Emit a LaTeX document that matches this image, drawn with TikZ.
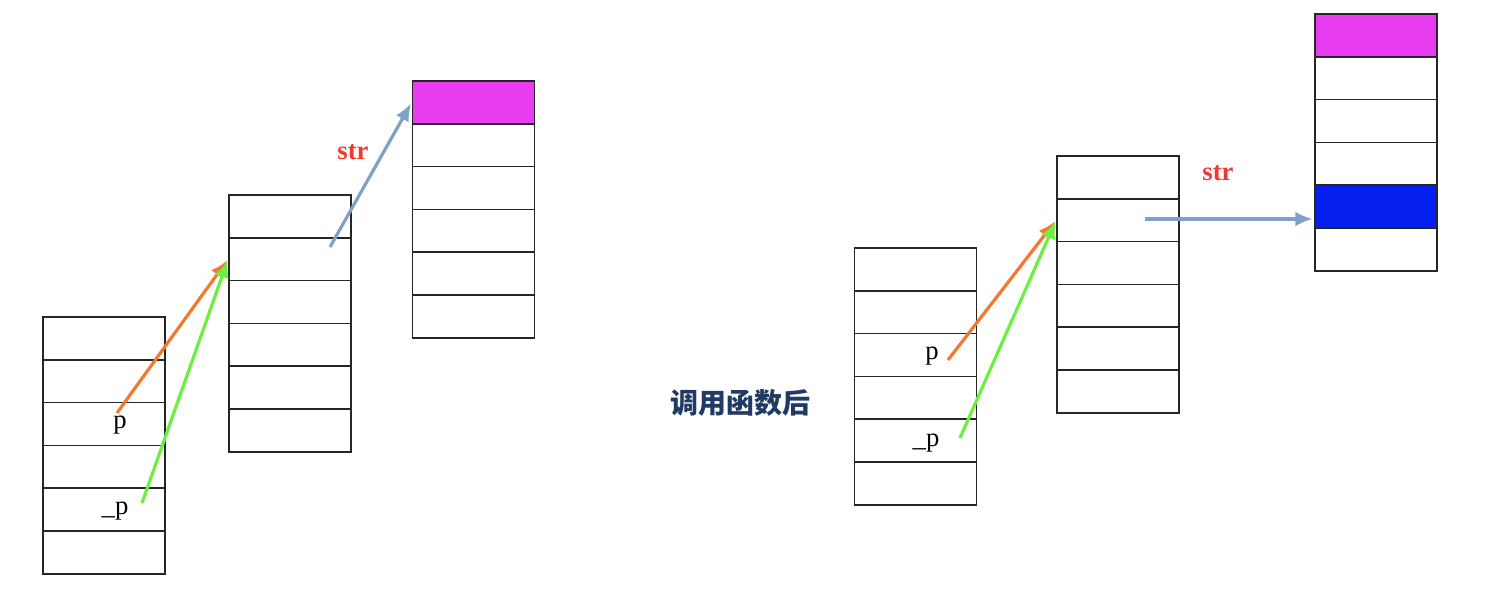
\documentclass[tikz,border=0pt]{standalone}
\usepackage{fontspec}
\setmainfont{Liberation Serif}
\newfontfamily\cjk{Noto Sans CJK SC}
\usetikzlibrary{arrows.meta}

\definecolor{cellpink}{HTML}{E83CF0}
\definecolor{cellblue}{HTML}{0620F0}
\definecolor{porange}{HTML}{F07A30}
\definecolor{pgreen}{HTML}{6CF040}
\definecolor{pgrey}{HTML}{80A0C8}
\definecolor{strred}{HTML}{F03A30}
\definecolor{titleblue}{HTML}{1F3A64}

\tikzset{
    cell/.style={draw=black!85, line width=1.3pt, minimum width=91.5pt, minimum height=32.1pt, inner sep=0pt},
    lbl/.style={font=\fontsize{20}{24}\selectfont},
    strlbl/.style={font=\bfseries\fontsize{20}{24}\selectfont, text=strred},
    ptr/.style={-{Latex[length=13pt, width=11pt]}, line width=2.4pt, shorten >=1pt}
}

\begin{document}
\begin{tikzpicture}[x=0.75pt, y=-0.75pt]
    \useasboundingbox (0,0) rectangle (1488,596);

    % Before the call: three stacks
    \foreach \i in {1,...,6}
    {
        \node[cell] (A-\i) at (104,{317+(\i-0.5)*42.8}) {};
    }
    \foreach \i in {1,...,6}
    {
        \node[cell] (B-\i) at (290,{195+(\i-0.5)*42.8}) {};
    }
    \foreach \i/\c in {1/cellpink,2/white,3/white,4/white,5/white,6/white}
    {
        \node[cell, fill=\c] (C-\i) at (473.5,{81+(\i-0.5)*42.8}) {};
    }

    % After the call
    \foreach \i in {1,...,6}
    {
        \node[cell] (D-\i) at (915.5,{248+(\i-0.5)*42.8}) {};
    }
    \foreach \i in {1,...,6}
    {
        \node[cell] (E-\i) at (1118,{156+(\i-0.5)*42.8}) {};
    }
    \foreach \i/\c in {1/cellpink,2/white,3/white,4/white,5/cellblue,6/white}
    {
        \node[cell, fill=\c] (F-\i) at (1376,{14+(\i-0.5)*42.8}) {};
    }

    % Labels
    \node[lbl] (P-A) at (120,425) {p};
    \node[lbl] (Q-A) at (115,511) {\_p};
    \node[lbl] (P-D) at (932,356) {p};
    \node[lbl] (Q-D) at (926,443) {\_p};
    \node[strlbl] (Str-A) at (353,152) {str};
    \node[strlbl] (Str-F) at (1218,173) {str};
    \node[font=\cjk\bfseries\fontsize{21}{25}\selectfont, text=titleblue] (Title) at (740,403) {调用函数后};

    % Pointer tails
    \coordinate (pA) at (117,413);
    \coordinate (qA) at (142,503);
    \coordinate (sA) at (330,247);
    \coordinate (pD) at (948,360);
    \coordinate (qD) at (960,438);
    \coordinate (sE) at (1145,219);

    % Pointers
    \draw[ptr, porange] (pA) -- (B-2.west);
    \draw[ptr, pgreen] (qA) -- (B-2.west);
    \draw[ptr, pgrey] (sA) -- (C-1.west);
    \draw[ptr, porange] (pD) -- (E-2.west);
    \draw[ptr, pgreen] (qD) -- (E-2.west);
    \draw[ptr, pgrey] (sE) -- (F-5.west |- sE);
\end{tikzpicture}
\end{document}
